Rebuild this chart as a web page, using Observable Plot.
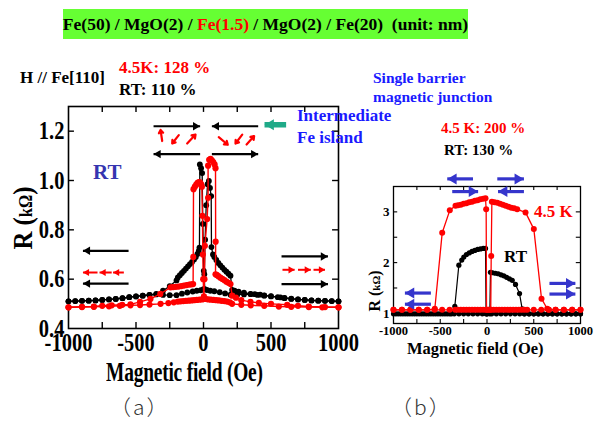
<!DOCTYPE html>
<html><head><meta charset="utf-8">
<script src="https://cdn.jsdelivr.net/npm/d3@7"></script>
<script src="https://cdn.jsdelivr.net/npm/@observablehq/plot@0.6"></script>
<style>
body{margin:0;background:#fff;}
#root{position:relative;width:596px;height:423px;overflow:hidden;font-family:"Liberation Serif","Times New Roman",serif;font-weight:bold;background:#fff;}
#root svg{position:absolute;left:0;top:0;}
.t{position:absolute;white-space:nowrap;line-height:1;}
</style></head><body><div id="root"></div>
<script>
// ---------- Panel (a): Fe/MgO/Fe(1.5)/MgO/Fe double barrier, R (kΩ) vs H (Oe) ----------
const aRtUp = [[-1000,0.510],[-950,0.511],[-900,0.512],[-850,0.513],[-800,0.514],[-750,0.516],[-700,0.518],[-650,0.520],[-600,0.523],[-550,0.527],[-500,0.530],[-450,0.533],[-400,0.536],[-350,0.540],[-300,0.553],[-250,0.572],[-200,0.595],[-190,0.607],[-175,0.616],[-160,0.625],[-145,0.634],[-130,0.643],[-115,0.652],[-100,0.661],[-85,0.670],[-70,0.680],[-57,0.690],[-45,0.702],[-35,0.715],[-30,0.728],[-27,1.065],[-18,1.050],[-10,1.030],[-5,0.824],[2,0.634],[10,0.560],[25,0.556],[50,0.553],[80,0.551],[120,0.547],[160,0.542],[200,0.537],[250,0.537],[300,0.538],[350,0.539],[400,0.536],[450,0.533],[500,0.530],[550,0.527],[600,0.523],[650,0.520],[700,0.518],[750,0.516],[800,0.514],[850,0.513],[900,0.512],[950,0.511],[1000,0.510]];
const aRtDown = [[1000,0.510],[950,0.511],[900,0.512],[850,0.513],[800,0.514],[750,0.516],[700,0.518],[650,0.521],[600,0.524],[570,0.526],[500,0.531],[450,0.534],[420,0.537],[380,0.539],[348,0.540],[300,0.545],[260,0.549],[230,0.553],[212,0.556],[200,0.614],[185,0.622],[170,0.630],[155,0.638],[140,0.647],[125,0.656],[110,0.666],[95,0.678],[80,0.690],[70,0.700],[59,0.730],[57,0.937],[48,0.970],[40,0.998],[30,0.985],[20,0.900],[12,0.760],[6,0.620],[0,0.560],[-20,0.555],[-50,0.553],[-80,0.550],[-120,0.546],[-160,0.541],[-200,0.535],[-250,0.535],[-300,0.536],[-350,0.538],[-400,0.536],[-450,0.533],[-500,0.530],[-550,0.527],[-600,0.523],[-650,0.520],[-700,0.518],[-750,0.516],[-800,0.514],[-850,0.513],[-900,0.512],[-950,0.511],[-1000,0.510]];
const aLtUp = [[-1000,0.486],[-900,0.488],[-812,0.489],[-750,0.492],[-680,0.494],[-602,0.496],[-541,0.498],[-470,0.508],[-393,0.520],[-320,0.540],[-244,0.567],[-225,0.568],[-205,0.569],[-185,0.570],[-165,0.572],[-145,0.574],[-125,0.576],[-105,0.578],[-90,0.579],[-77,0.580],[-76,0.690],[-74,0.965],[-64,0.975],[-54,0.983],[-44,0.990],[-34,0.994],[-26,0.992],[-18,0.985],[-12,0.975],[-8,0.857],[-5,0.700],[-2,0.600],[2,0.522],[15,0.520],[35,0.518],[55,0.517],[75,0.516],[95,0.515],[115,0.514],[135,0.512],[155,0.511],[175,0.509],[195,0.506],[212,0.500],[280,0.496],[350,0.494],[450,0.492],[558,0.489],[650,0.488],[780,0.487],[880,0.486],[1000,0.486]];
const aLtDown = [[1000,0.486],[900,0.487],[780,0.489],[700,0.492],[620,0.496],[500,0.500],[410,0.504],[348,0.508],[280,0.515],[240,0.525],[212,0.533],[200,0.580],[185,0.585],[170,0.590],[155,0.596],[140,0.601],[125,0.606],[110,0.612],[98,0.617],[89,0.620],[90,0.752],[89,1.050],[82,1.065],[72,1.075],[62,1.082],[52,1.088],[42,1.084],[34,1.060],[34,0.930],[27,0.844],[10,0.735],[7,0.600],[3,0.530],[-10,0.518],[-30,0.517],[-50,0.516],[-70,0.515],[-90,0.514],[-110,0.513],[-130,0.512],[-150,0.511],[-170,0.510],[-190,0.509],[-220,0.506],[-260,0.503],[-318,0.500],[-400,0.497],[-470,0.495],[-541,0.494],[-620,0.492],[-700,0.490],[-812,0.488],[-900,0.487],[-1000,0.486]];

// ---------- Panel (b): single barrier junction ----------
const bLtUp = [[-1000,1.07],[-910,1.07],[-820,1.07],[-730,1.07],[-640,1.07],[-560,1.07],[-480,1.07],[-400,1.07],[-340,1.07],[-310,1.07],[-280,1.07],[-250,1.07],[-220,1.07],[-190,1.07],[-160,1.07],[-130,1.07],[-100,1.07],[-70,1.07],[-40,1.07],[-10,1.07],[20,1.07],[40,1.07],[45,2.13],[52,3.20],[80,3.19],[110,3.18],[140,3.16],[170,3.14],[200,3.12],[230,3.10],[260,3.08],[290,3.07],[323,3.05],[412,2.99],[501,2.66],[583,1.29],[644,1.09],[661,1.07],[733,1.07],[822,1.07],[911,1.07],[1000,1.07]];
const bLtDown = [[1000,1.07],[911,1.07],[822,1.07],[733,1.07],[661,1.07],[580,1.07],[500,1.07],[430,1.07],[400,1.07],[370,1.07],[340,1.07],[310,1.07],[280,1.07],[250,1.07],[220,1.07],[190,1.07],[160,1.07],[130,1.07],[100,1.07],[70,1.07],[40,1.07],[10,1.07],[-5,1.07],[-9,3.05],[-16,3.27],[-40,3.26],[-70,3.25],[-100,3.23],[-130,3.22],[-160,3.20],[-190,3.19],[-220,3.17],[-250,3.16],[-280,3.14],[-310,3.13],[-337,3.12],[-398,3.03],[-479,2.59],[-558,1.09],[-640,1.07],[-730,1.07],[-820,1.07],[-910,1.07],[-1000,1.07]];
const bRtUp = [[-1000,0.99],[-950,0.99],[-900,0.99],[-850,0.99],[-800,0.99],[-750,0.99],[-700,0.99],[-650,0.99],[-600,0.99],[-550,0.99],[-500,0.99],[-450,0.99],[-400,0.99],[-350,0.99],[-300,0.99],[-250,0.99],[-200,0.99],[-150,0.99],[-100,0.99],[-50,0.99],[0,0.99],[30,0.99],[37,1.81],[60,1.80],[90,1.79],[120,1.78],[150,1.76],[180,1.74],[210,1.71],[240,1.68],[270,1.65],[305,1.57],[348,1.39],[376,1.09],[400,0.99],[450,0.99],[500,0.99],[550,0.99],[600,0.99],[650,0.99],[700,0.99],[750,0.99],[800,0.99],[850,0.99],[900,0.99],[950,0.99],[1000,0.99]];
const bRtDown = [[1000,0.99],[950,0.99],[900,0.99],[850,0.99],[800,0.99],[750,0.99],[700,0.99],[650,0.99],[600,0.99],[550,0.99],[500,0.99],[450,0.99],[400,0.99],[350,0.99],[300,0.99],[250,0.99],[200,0.99],[150,0.99],[100,0.99],[50,0.99],[0,0.99],[-10,0.99],[-16,2.28],[-40,2.28],[-70,2.27],[-100,2.26],[-130,2.24],[-160,2.22],[-190,2.19],[-220,2.16],[-248,2.11],[-270,2.05],[-301,1.95],[-344,1.14],[-380,0.99],[-425,0.99],[-475,0.99],[-525,0.99],[-575,0.99],[-625,0.99],[-675,0.99],[-725,0.99],[-775,0.99],[-825,0.99],[-875,0.99],[-925,0.99],[-975,0.99]];

// ticks
const xTicks = [-750,-500,-250,0,250,500,750];
const xLabels = [-1000,-500,0,500,1000];
const yLabelsA = [0.4,0.6,0.8,1.0,1.2];
const yTicksA = [0.6,0.8,1.0,1.2];
const yLabelsB = [1,2,3];
const yTicksB = [1,1.5,2,2.5,3];

// annotation arrows (data coordinates)
const aBlackArrows = [
  {x1:-370,x2:-25,y:1.22},{x1:-25,x2:-370,y:1.107},
  {x1:405,x2:62,y:1.22},{x1:62,x2:405,y:1.107},
  {x1:-555,x2:-893,y:0.715},{x1:-555,x2:-893,y:0.582},
  {x1:578,x2:922,y:0.692},{x1:578,x2:922,y:0.58}
];
const aRedDashArrows = [
  {x1:-785,x2:-893,y:0.627},{x1:-680,x2:-770,y:0.627},{x1:-590,x2:-670,y:0.627},
  {x1:585,x2:675,y:0.638},{x1:700,x2:795,y:0.638},{x1:815,x2:900,y:0.638}
];
const aRedSmallArrows = [
  {x1:-306,y1:1.160,x2:-318,y2:1.205},
  {x1:-183,y1:1.184,x2:-232,y2:1.150},
  {x1:-121,y1:1.150,x2:-59,y2:1.186},
  {x1:113,y1:1.176,x2:180,y2:1.145},
  {x1:287,y1:1.186,x2:237,y2:1.150},
  {x1:319,y1:1.146,x2:375,y2:1.180}
];
const aTealArrow = [{x1:612,x2:452,y:1.226}];
const bBlueArrows = [
  {x1:-150,x2:-425,y:3.65},{x1:-372,x2:-95,y:3.40},
  {x1:110,x2:395,y:3.65},{x1:395,x2:118,y:3.40},
  {x1:668,x2:945,y:1.59},{x1:668,x2:945,y:1.38},
  {x1:-600,x2:-878,y:1.40},{x1:-600,x2:-878,y:1.18}
];

const RED = "#ff0000";
const rows = (arr) => arr.map(([h, r]) => ({h, r}));

// filled arrowhead symbols with the tip at the anchor point
const headRight = {draw(c, size){ const r = Math.sqrt(size/Math.PI); c.moveTo(0,0); c.lineTo(-1.7*r,-r); c.lineTo(-1.7*r,r); c.closePath(); }};
const headLeft = {draw(c, size){ const r = Math.sqrt(size/Math.PI); c.moveTo(0,0); c.lineTo(1.7*r,-r); c.lineTo(1.7*r,r); c.closePath(); }};
function blockArrows(list, color, w, r, extra = {}) {
  return [
    Plot.link(list, {x1:"x1", y1:"y", x2:"x2", y2:"y", stroke: color, strokeWidth: w, ...extra}),
    Plot.dot(list.filter(d => d.x2 > d.x1), {x:"x2", y:"y", symbol: headRight, r, fill: color, stroke: "none"}),
    Plot.dot(list.filter(d => d.x2 < d.x1), {x:"x2", y:"y", symbol: headLeft, r, fill: color, stroke: "none"})
  ];
}

const fontSerif = "'Liberation Serif','Times New Roman',serif";

const plotA = Plot.plot({
  width: 596, height: 423,
  marginLeft: 68, marginRight: 258, marginTop: 106, marginBottom: 95,
  x: {domain: [-1000, 1000]},
  y: {domain: [0.4, 1.3]},
  style: {background: "none", overflow: "visible", fontFamily: fontSerif, fontWeight: "bold"},
  marks: [
    Plot.frame({strokeWidth: 1.6}),
    Plot.ruleX(xTicks, {x: d => d, y1: 0.4, y2: 0.424, strokeWidth: 1.4}),
    Plot.ruleX(xTicks, {x: d => d, y1: 1.3, y2: 1.276, strokeWidth: 1.4}),
    Plot.ruleY(yTicksA, {y: d => d, x1: -1000, x2: -956, strokeWidth: 1.4}),
    Plot.ruleY(yTicksA, {y: d => d, x1: 1000, x2: 956, strokeWidth: 1.4}),
    Plot.axisX({ticks: xLabels, tickSize: 0, tickPadding: 5, tickFormat: d => String(d), fontSize: 25, fontFamily: fontSerif, fontWeight: "bold", label: null}),
    Plot.axisY({ticks: yLabelsA, tickSize: 0, tickPadding: 4, tickFormat: d => d.toFixed(1), fontSize: 25, fontFamily: fontSerif, fontWeight: "bold", label: null}),
    Plot.line(rows(aRtUp), {x: "h", y: "r", stroke: "black", strokeWidth: 1.3}),
    Plot.line(rows(aRtDown), {x: "h", y: "r", stroke: "black", strokeWidth: 1.3}),
    Plot.dot(rows(aRtUp), {x: "h", y: "r", r: 2.9, fill: "black"}),
    Plot.dot(rows(aRtDown), {x: "h", y: "r", r: 2.9, fill: "black"}),
    Plot.line(rows(aLtUp), {x: "h", y: "r", stroke: RED, strokeWidth: 1.4}),
    Plot.line(rows(aLtDown), {x: "h", y: "r", stroke: RED, strokeWidth: 1.4}),
    Plot.dot(rows(aLtUp), {x: "h", y: "r", r: 3.1, fill: RED}),
    Plot.dot(rows(aLtDown), {x: "h", y: "r", r: 3.1, fill: RED}),
    ...blockArrows(aBlackArrows, "black", 2.2, 4.2),
    ...blockArrows(aRedDashArrows, RED, 2, 3.6),
    Plot.arrow(aRedSmallArrows, {x1:"x1", y1:"y1", x2:"x2", y2:"y2", stroke: RED, strokeWidth: 2.2, headLength: 6, headAngle: 70}),
    ...blockArrows(aTealArrow, "#1faa88", 5.5, 5.5)
  ]
});

const plotB = Plot.plot({
  width: 596, height: 423,
  marginLeft: 393, marginRight: 16, marginTop: 186, marginBottom: 100,
  x: {domain: [-1000, 1000]},
  y: {domain: [0.8, 3.5]},
  style: {background: "none", overflow: "visible", fontFamily: fontSerif, fontWeight: "bold"},
  marks: [
    Plot.frame({strokeWidth: 1.3}),
    Plot.ruleX(xTicks, {x: d => d, y1: 0.8, y2: 0.88, strokeWidth: 1.1}),
    Plot.ruleX(xTicks, {x: d => d, y1: 3.5, y2: 3.42, strokeWidth: 1.1}),
    Plot.ruleY(yTicksB, {y: d => d, x1: -1000, x2: -955, strokeWidth: 1.1}),
    Plot.ruleY(yTicksB, {y: d => d, x1: 1000, x2: 955, strokeWidth: 1.1}),
    Plot.axisX({ticks: xLabels, tickSize: 0, tickPadding: 3, tickFormat: d => String(d), fontSize: 12.5, fontFamily: fontSerif, fontWeight: "bold", label: null}),
    Plot.axisY({ticks: yLabelsB, tickSize: 0, tickPadding: 4, tickFormat: d => String(d), fontSize: 13, fontFamily: fontSerif, fontWeight: "bold", label: null}),
    Plot.line(rows(bRtUp), {x: "h", y: "r", stroke: "black", strokeWidth: 1.2}),
    Plot.line(rows(bRtDown), {x: "h", y: "r", stroke: "black", strokeWidth: 1.2}),
    Plot.dot(rows(bRtUp), {x: "h", y: "r", r: 2.6, fill: "black"}),
    Plot.dot(rows(bRtDown), {x: "h", y: "r", r: 2.6, fill: "black"}),
    Plot.line(rows(bLtUp), {x: "h", y: "r", stroke: RED, strokeWidth: 1.3}),
    Plot.line(rows(bLtDown), {x: "h", y: "r", stroke: RED, strokeWidth: 1.3}),
    Plot.dot(rows(bLtUp), {x: "h", y: "r", r: 3, fill: RED}),
    Plot.dot(rows(bLtDown), {x: "h", y: "r", r: 3, fill: RED}),
    ...blockArrows(bBlueArrows, "#3535cc", 3.2, 5.5)
  ]
});

// condense panel (a) tick labels like the reference's narrow bold serif
function condense(svg, s) {
  svg.querySelectorAll('g[aria-label$="tick label"] text').forEach(t => {
    const tr = t.getAttribute("transform");
    if (tr) t.setAttribute("transform", tr + ` scale(${s},1)`);
  });
}
condense(plotA, 0.82);

const root = document.getElementById("root");
root.appendChild(plotA);
root.appendChild(plotB);

function addText(html, left, baseline, size, style = "") {
  const d = document.createElement("div");
  d.className = "t";
  d.style.cssText = `left:${left}px;top:${baseline - 0.8375 * size}px;font-size:${size}px;${style}`;
  d.innerHTML = html;
  root.appendChild(d);
  return d;
}

// title box
const box = document.createElement("div");
box.style.cssText = "position:absolute;left:63px;top:9px;width:405px;height:30px;background:#66ff33;display:flex;align-items:center;justify-content:center;font-size:17.5px;white-space:nowrap;padding-top:1px;box-sizing:border-box;";
box.innerHTML = '<span>Fe(50) / MgO(2) / <span style="color:#ff0000">Fe(1.5)</span> / MgO(2) / Fe(20)&nbsp;&nbsp;(unit: nm)</span>';
root.appendChild(box);

addText("H // Fe[110]", 20, 83, 17);
addText("4.5K: 128 %", 119, 73, 17, "color:#ff0000");
addText("RT: 110 %", 119, 95, 17);
addText("Single barrier", 373, 83, 15.5, "color:#1a1aff");
addText("magnetic junction", 373, 102, 15.5, "color:#1a1aff");
addText("Intermediate", 297, 121, 17, "color:#1a1aff");
addText("Fe island", 297, 143, 17, "color:#1a1aff");
addText("RT", 93, 180, 21, "color:#3535b0");
addText("4.5 K: 200 %", 441, 134, 15, "color:#ff0000");
addText("RT: 130 %", 444, 156, 15);
addText("4.5 K", 534, 217, 17, "color:#ff0000");
addText("RT", 504, 262, 17);

// axis titles
addText("Magnetic field (Oe)", 106, 382, 27, "transform:scaleX(0.72);transform-origin:0 0;letter-spacing:-0.3px");
addText("Magnetic field (Oe)", 407, 355, 16.5);
const ya = document.createElement("div");
ya.className = "t";
ya.style.cssText = "left:23px;top:218px;font-size:27px;transform:translate(-50%,-50%) rotate(-90deg) scaleX(0.92);";
ya.innerHTML = 'R (<span style="font-size:18px">kΩ</span>)';
root.appendChild(ya);
const yb = document.createElement("div");
yb.className = "t";
yb.style.cssText = "left:375px;top:291px;font-size:16px;transform:translate(-50%,-50%) rotate(-90deg);";
yb.innerHTML = 'R (<span style="font-size:11px">kΩ</span>)';
root.appendChild(yb);

// panel captions
addText("（a）", 110, 414, 21, "font-family:'Noto Sans CJK JP',sans-serif;font-weight:300;color:#333;letter-spacing:2px");
addText("（b）", 391, 414, 21, "font-family:'Noto Sans CJK JP',sans-serif;font-weight:300;color:#333;letter-spacing:2px");
</script></body></html>
